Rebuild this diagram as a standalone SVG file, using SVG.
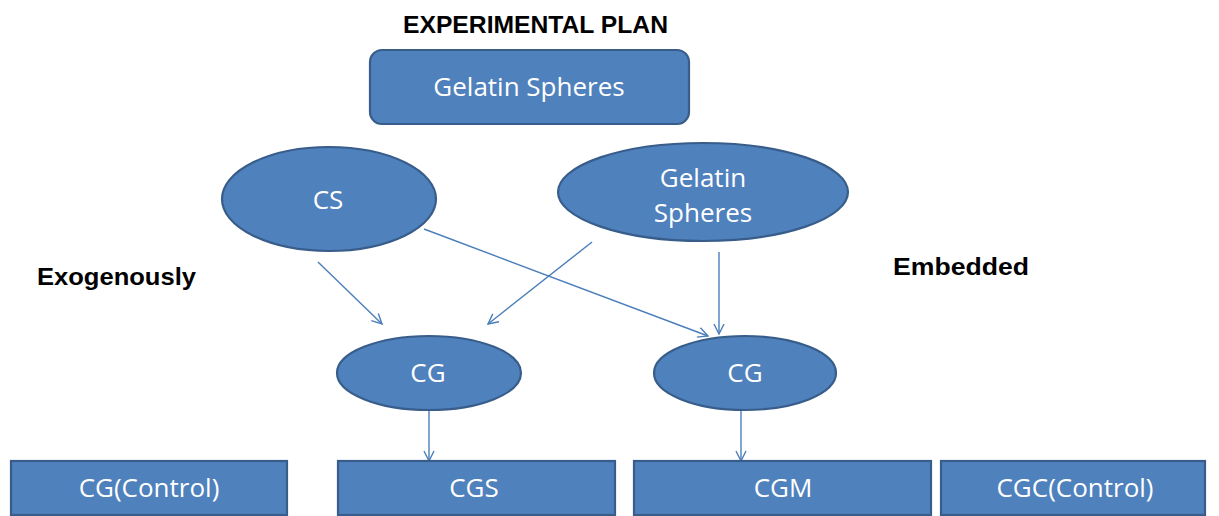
<svg xmlns="http://www.w3.org/2000/svg" width="1219" height="516" viewBox="0 0 1219 516">
  <style>
    .node { fill: #4F81BD; stroke: #385D8A; stroke-width: 2.2; }
    .ntext { font-family: "Open Sans", "Noto Sans", sans-serif; font-size: 26px; fill: #FFFFFF; text-anchor: middle; }
    .label { font-family: "Liberation Sans", Arial, sans-serif; font-weight: bold; font-size: 24px; fill: #000000; }
    .conn { stroke: #4A7EBB; stroke-width: 1.4; fill: none; marker-end: url(#arrow); }
  </style>
  <defs>
    <marker id="arrow" viewBox="0 0 12 12" refX="11" refY="6" markerWidth="12" markerHeight="12" markerUnits="userSpaceOnUse" orient="auto">
      <path d="M1,1 L11,6 L1,11" fill="none" stroke="#4A7EBB" stroke-width="1.4"/>
    </marker>
  </defs>
  <rect width="1219" height="516" fill="#FFFFFF"/>

  <g id="title">
    <text class="label" x="403" y="33" textLength="265" lengthAdjust="spacingAndGlyphs">EXPERIMENTAL PLAN</text>
  </g>
  <g id="label-exogenously">
    <text class="label" x="37" y="285" textLength="159" lengthAdjust="spacingAndGlyphs">Exogenously</text>
  </g>
  <g id="label-embedded">
    <text class="label" x="893" y="275" textLength="136" lengthAdjust="spacingAndGlyphs">Embedded</text>
  </g>

  <g id="connectors">
    <line class="conn" x1="318" y1="262" x2="382" y2="324"/>
    <line class="conn" x1="592" y1="242" x2="488" y2="324"/>
    <line class="conn" x1="424" y1="229" x2="708" y2="336"/>
    <line class="conn" x1="719" y1="252" x2="719" y2="334"/>
    <line class="conn" x1="429" y1="411" x2="429" y2="461"/>
    <line class="conn" x1="741" y1="411" x2="741" y2="461"/>
  </g>

  <g id="node-gelatin-top">
    <rect class="node" x="370" y="50" width="319" height="74" rx="12" ry="12"/>
    <text class="ntext" x="529" y="96">Gelatin Spheres</text>
  </g>
  <g id="node-cs">
    <ellipse class="node" cx="329" cy="199" rx="107" ry="52"/>
    <text class="ntext" x="328" y="209">CS</text>
  </g>
  <g id="node-gelatin-ellipse">
    <ellipse class="node" cx="703" cy="192" rx="145" ry="49"/>
    <text class="ntext" x="703" y="187">Gelatin</text>
    <text class="ntext" x="703" y="222">Spheres</text>
  </g>
  <g id="node-cg-left">
    <ellipse class="node" cx="429" cy="373" rx="92" ry="37"/>
    <text class="ntext" x="428" y="382">CG</text>
  </g>
  <g id="node-cg-right">
    <ellipse class="node" cx="745" cy="373" rx="91" ry="37"/>
    <text class="ntext" x="745" y="382">CG</text>
  </g>
  <g id="node-cg-control">
    <rect class="node" x="11" y="461" width="276" height="54"/>
    <text class="ntext" x="149" y="497">CG(Control)</text>
  </g>
  <g id="node-cgs">
    <rect class="node" x="338" y="461" width="277" height="54"/>
    <text class="ntext" x="474" y="497">CGS</text>
  </g>
  <g id="node-cgm">
    <rect class="node" x="634" y="461" width="297" height="54"/>
    <text class="ntext" x="783" y="497">CGM</text>
  </g>
  <g id="node-cgc-control">
    <rect class="node" x="941" y="461" width="264" height="54"/>
    <text class="ntext" x="1075" y="497">CGC(Control)</text>
  </g>
</svg>
